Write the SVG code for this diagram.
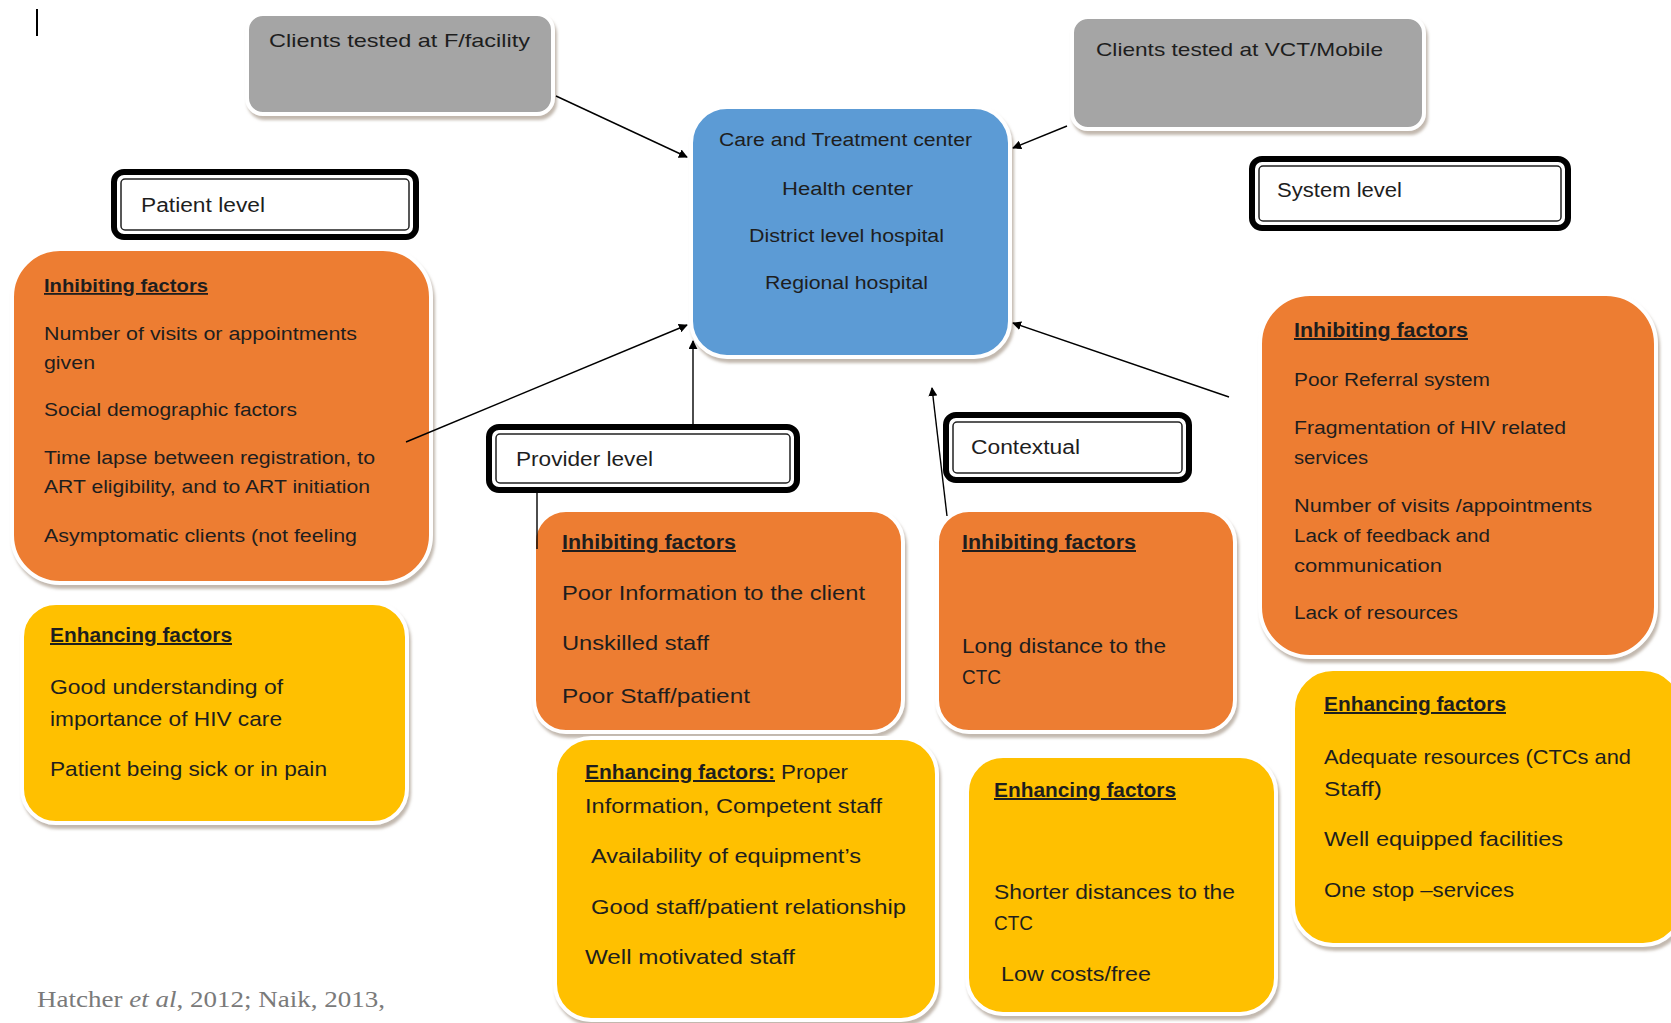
<svg xmlns="http://www.w3.org/2000/svg" width="1671" height="1023" viewBox="0 0 1671 1023">
  <defs>
    <filter id="shadow" x="-10%" y="-10%" width="125%" height="130%">
      <feDropShadow dx="2" dy="4" stdDeviation="1.5" flood-color="#a89a8c" flood-opacity="0.7"/>
    </filter>
    <marker id="arrow" viewBox="0 0 10 10" refX="9" refY="5" markerWidth="9" markerHeight="9" markerUnits="userSpaceOnUse" orient="auto">
      <path d="M0,0 L10,5 L0,10 z" fill="#000"/>
    </marker>
    <style>
      text { font-family: "Liberation Sans", Arial, sans-serif; fill: #1e1e1e; }
      .s18 { font-size: 18px; }
      .s19 { font-size: 19px; }
      .s20 { font-size: 20px; }
      .s21 { font-size: 21px; }
      .hd { font-weight: bold; text-decoration: underline; }
      .grey { fill: #a5a5a5; stroke: #ffffff; stroke-width: 4; filter: url(#shadow); }
      .blue { fill: #5b9bd5; stroke: #ffffff; stroke-width: 4; filter: url(#shadow); }
      .orange { fill: #ed7d31; stroke: #ffffff; stroke-width: 4; filter: url(#shadow); }
      .yellow { fill: #ffc000; stroke: #ffffff; stroke-width: 4; filter: url(#shadow); }
      .lvl-out { fill: #ffffff; stroke: #000000; stroke-width: 6; }
      .lvl-in { fill: #ffffff; stroke: #222222; stroke-width: 1.5; }
      .conn { stroke: #000000; stroke-width: 1.4; fill: none; }
      .cite { font-family: "Liberation Serif", "Times New Roman", serif; font-size: 23px; fill: #7a7a7a; }
    </style>
  </defs>

  <!-- text cursor -->
  <line x1="37" y1="9" x2="37" y2="36" stroke="#000" stroke-width="2"/>

  <!-- testing entry points -->
  <g id="facility">
    <rect class="grey" x="247" y="14" width="306" height="100" rx="16"/>
    <text class="s19" x="269" y="47" textLength="261" lengthAdjust="spacingAndGlyphs">Clients tested at F/facility</text>
  </g>
  <g id="vct">
    <rect class="grey" x="1072" y="17" width="352" height="112" rx="16"/>
    <text class="s19" x="1096" y="56" textLength="287" lengthAdjust="spacingAndGlyphs">Clients tested at VCT/Mobile</text>
  </g>

  <!-- care and treatment centre -->
  <g id="ctc">
    <rect class="blue" x="691" y="107" width="319" height="250" rx="36"/>
    <text class="s18" x="719" y="146" textLength="253" lengthAdjust="spacingAndGlyphs">Care and Treatment center</text>
    <text class="s18" x="782" y="195" textLength="131" lengthAdjust="spacingAndGlyphs">Health center</text>
    <text class="s18" x="749" y="242" textLength="195" lengthAdjust="spacingAndGlyphs">District level hospital</text>
    <text class="s18" x="765" y="289" textLength="163" lengthAdjust="spacingAndGlyphs">Regional hospital</text>
  </g>

  <!-- level labels -->
  <g id="patient-level">
    <rect class="lvl-out" x="114" y="172" width="302" height="65" rx="10"/>
    <rect class="lvl-in" x="121" y="179" width="288" height="51" rx="4"/>
    <text class="s20" x="141" y="212" textLength="124" lengthAdjust="spacingAndGlyphs">Patient level</text>
  </g>
  <g id="system-level">
    <rect class="lvl-out" x="1252" y="159" width="316" height="69" rx="10"/>
    <rect class="lvl-in" x="1259" y="166" width="302" height="55" rx="4"/>
    <text class="s20" x="1277" y="197" textLength="125" lengthAdjust="spacingAndGlyphs">System level</text>
  </g>
  <g id="provider-level">
    <rect class="lvl-out" x="489" y="427" width="308" height="63" rx="10"/>
    <rect class="lvl-in" x="496" y="434" width="294" height="49" rx="4"/>
    <text class="s20" x="516" y="466" textLength="137" lengthAdjust="spacingAndGlyphs">Provider level</text>
  </g>
  <g id="contextual-level">
    <rect class="lvl-out" x="946" y="415" width="243" height="65" rx="10"/>
    <rect class="lvl-in" x="953" y="422" width="229" height="51" rx="4"/>
    <text class="s20" x="971" y="454" textLength="109" lengthAdjust="spacingAndGlyphs">Contextual</text>
  </g>

  <!-- patient level factors -->
  <g id="patient-inhibiting">
    <rect class="orange" x="12" y="249" width="419" height="334" rx="48"/>
    <text class="s18 hd" x="44" y="292" textLength="164" lengthAdjust="spacingAndGlyphs">Inhibiting factors</text>
    <text class="s18" x="44" y="340" textLength="313" lengthAdjust="spacingAndGlyphs">Number of visits or appointments</text>
    <text class="s18" x="44" y="369" textLength="51" lengthAdjust="spacingAndGlyphs">given</text>
    <text class="s18" x="44" y="416" textLength="253" lengthAdjust="spacingAndGlyphs">Social demographic factors</text>
    <text class="s18" x="44" y="464" textLength="331" lengthAdjust="spacingAndGlyphs">Time lapse between registration, to</text>
    <text class="s18" x="44" y="493" textLength="326" lengthAdjust="spacingAndGlyphs">ART eligibility, and to ART initiation</text>
    <text class="s18" x="44" y="542" textLength="313" lengthAdjust="spacingAndGlyphs">Asymptomatic clients (not feeling</text>
  </g>
  <g id="patient-enhancing">
    <rect class="yellow" x="22" y="603" width="385" height="220" rx="34"/>
    <text class="s20 hd" x="50" y="642" textLength="182" lengthAdjust="spacingAndGlyphs">Enhancing factors</text>
    <text class="s21" x="50" y="694" textLength="233" lengthAdjust="spacingAndGlyphs">Good understanding of</text>
    <text class="s21" x="50" y="726" textLength="232" lengthAdjust="spacingAndGlyphs">importance of HIV care</text>
    <text class="s21" x="50" y="776" textLength="277" lengthAdjust="spacingAndGlyphs">Patient being sick or in pain</text>
  </g>

  <!-- provider level factors -->
  <g id="provider-inhibiting">
    <rect class="orange" x="534" y="510" width="369" height="222" rx="32"/>
    <text class="s20 hd" x="562" y="549" textLength="174" lengthAdjust="spacingAndGlyphs">Inhibiting factors</text>
    <text class="s21" x="562" y="600" textLength="303" lengthAdjust="spacingAndGlyphs">Poor Information to the client</text>
    <text class="s21" x="562" y="650" textLength="147" lengthAdjust="spacingAndGlyphs">Unskilled staff</text>
    <text class="s21" x="562" y="703" textLength="188" lengthAdjust="spacingAndGlyphs">Poor Staff/patient</text>
  </g>
  <g id="provider-enhancing">
    <rect class="yellow" x="555" y="738" width="382" height="282" rx="36"/>
    <text class="s20 hd" x="585" y="779" textLength="190" lengthAdjust="spacingAndGlyphs">Enhancing factors:</text>
    <text class="s21" x="781" y="779" textLength="67" lengthAdjust="spacingAndGlyphs">Proper</text>
    <text class="s21" x="585" y="813" textLength="297" lengthAdjust="spacingAndGlyphs">Information, Competent staff</text>
    <text class="s21" x="591" y="863" textLength="270" lengthAdjust="spacingAndGlyphs">Availability of equipment’s</text>
    <text class="s21" x="591" y="914" textLength="315" lengthAdjust="spacingAndGlyphs">Good staff/patient relationship</text>
    <text class="s21" x="585" y="964" textLength="210" lengthAdjust="spacingAndGlyphs">Well motivated staff</text>
  </g>

  <!-- contextual factors -->
  <g id="contextual-inhibiting">
    <rect class="orange" x="937" y="510" width="298" height="222" rx="32"/>
    <text class="s20 hd" x="962" y="549" textLength="174" lengthAdjust="spacingAndGlyphs">Inhibiting factors</text>
    <text class="s21" x="962" y="653" textLength="204" lengthAdjust="spacingAndGlyphs">Long distance to the</text>
    <text class="s21" x="962" y="684" textLength="39" lengthAdjust="spacingAndGlyphs">CTC</text>
  </g>
  <g id="contextual-enhancing">
    <rect class="yellow" x="967" y="756" width="309" height="258" rx="36"/>
    <text class="s20 hd" x="994" y="797" textLength="182" lengthAdjust="spacingAndGlyphs">Enhancing factors</text>
    <text class="s21" x="994" y="899" textLength="241" lengthAdjust="spacingAndGlyphs">Shorter distances to the</text>
    <text class="s21" x="994" y="930" textLength="39" lengthAdjust="spacingAndGlyphs">CTC</text>
    <text class="s21" x="1001" y="981" textLength="150" lengthAdjust="spacingAndGlyphs">Low costs/free</text>
  </g>

  <!-- system level factors -->
  <g id="system-inhibiting">
    <rect class="orange" x="1260" y="294" width="396" height="363" rx="50"/>
    <text class="s20 hd" x="1294" y="337" textLength="174" lengthAdjust="spacingAndGlyphs">Inhibiting factors</text>
    <text class="s18" x="1294" y="386" textLength="196" lengthAdjust="spacingAndGlyphs">Poor Referral system</text>
    <text class="s18" x="1294" y="434" textLength="272" lengthAdjust="spacingAndGlyphs">Fragmentation of HIV related</text>
    <text class="s18" x="1294" y="464" textLength="74" lengthAdjust="spacingAndGlyphs">services</text>
    <text class="s18" x="1294" y="512" textLength="298" lengthAdjust="spacingAndGlyphs">Number of visits /appointments</text>
    <text class="s18" x="1294" y="542" textLength="196" lengthAdjust="spacingAndGlyphs">Lack of feedback and</text>
    <text class="s18" x="1294" y="572" textLength="148" lengthAdjust="spacingAndGlyphs">communication</text>
    <text class="s18" x="1294" y="619" textLength="164" lengthAdjust="spacingAndGlyphs">Lack of resources</text>
  </g>
  <g id="system-enhancing">
    <rect class="yellow" x="1293" y="669" width="390" height="276" rx="40"/>
    <text class="s20 hd" x="1324" y="711" textLength="182" lengthAdjust="spacingAndGlyphs">Enhancing factors</text>
    <text class="s21" x="1324" y="764" textLength="307" lengthAdjust="spacingAndGlyphs">Adequate resources (CTCs and</text>
    <text class="s21" x="1324" y="796" textLength="58" lengthAdjust="spacingAndGlyphs">Staff)</text>
    <text class="s21" x="1324" y="846" textLength="239" lengthAdjust="spacingAndGlyphs">Well equipped facilities</text>
    <text class="s21" x="1324" y="897" textLength="190" lengthAdjust="spacingAndGlyphs">One stop –services</text>
  </g>

  <!-- connectors, drawn over the boxes they start from -->
  <g id="connectors">
    <line class="conn" x1="556" y1="96" x2="687" y2="157" marker-end="url(#arrow)"/>
    <line class="conn" x1="1067" y1="126" x2="1013" y2="148" marker-end="url(#arrow)"/>
    <line class="conn" x1="406" y1="442" x2="687" y2="325" marker-end="url(#arrow)"/>
    <line class="conn" x1="693" y1="426" x2="693" y2="341" marker-end="url(#arrow)"/>
    <line class="conn" x1="537" y1="492" x2="537" y2="549"/>
    <line class="conn" x1="947" y1="516" x2="932" y2="388" marker-end="url(#arrow)"/>
    <line class="conn" x1="1229" y1="397" x2="1013" y2="323" marker-end="url(#arrow)"/>
  </g>

  <!-- source note -->
  <text class="cite" x="37" y="1007" textLength="348" lengthAdjust="spacingAndGlyphs">Hatcher <tspan font-style="italic">et al</tspan>, 2012; Naik, 2013,</text>
</svg>
